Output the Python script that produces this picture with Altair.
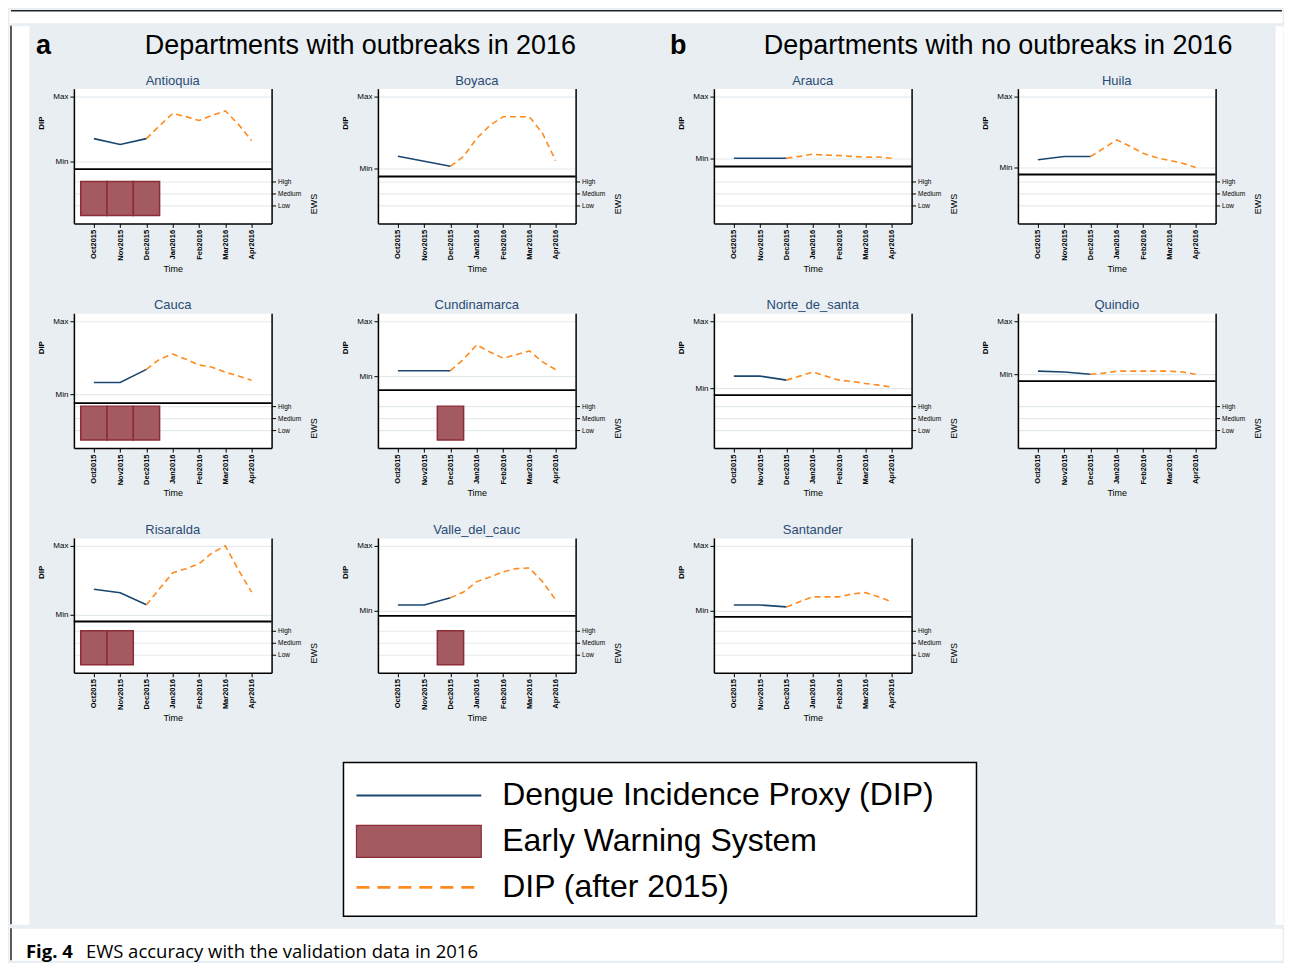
import altair as alt
import pandas as pd

# ---------------- data ----------------
MONTHS = ["Oct2015", "Nov2015", "Dec2015", "Jan2016", "Feb2016", "Mar2016", "Apr2016"]
EWS_LEVELS = ["Low", "Medium", "High"]
BLUE_X = [0, 1, 2]                                   # Oct, Nov, Dec 2015
ORANGE_X = [2, 2.5, 3, 3.5, 4, 4.5, 5, 5.5, 6]       # Dec 2015 .. Apr 2016

# DIP scaled to the panel's own range (0 = Min, 1 = Max)
antioquia_blue = [0.35, 0.26, 0.35]
antioquia_orange = [0.35, 0.55, 0.74, 0.69, 0.63, 0.71, 0.78, 0.57, 0.32]
boyaca_blue = [0.17, 0.10, 0.03]
boyaca_orange = [0.03, 0.17, 0.42, 0.60, 0.72, 0.72, 0.72, 0.49, 0.11]
cauca_blue = [0.16, 0.16, 0.34]
cauca_orange = [0.34, 0.48, 0.55, 0.48, 0.40, 0.37, 0.30, 0.25, 0.19]
cundinamarca_blue = [0.10, 0.10, 0.10]
cundinamarca_orange = [0.10, 0.31, 0.57, 0.44, 0.33, 0.39, 0.46, 0.26, 0.12]
risaralda_blue = [0.37, 0.32, 0.145]
risaralda_orange = [0.145, 0.38, 0.61, 0.67, 0.74, 0.90, 1.0, 0.65, 0.33]
valle_blue = [0.09, 0.09, 0.20]
valle_orange = [0.20, 0.29, 0.45, 0.52, 0.60, 0.65, 0.66, 0.45, 0.17]
arauca_blue = [0.0, 0.0, 0.0]
arauca_orange = [0.0, 0.03, 0.065, 0.05, 0.045, 0.03, 0.015, 0.02, 0.0]
huila_blue = [0.11, 0.155, 0.155]
huila_orange = [0.155, 0.27, 0.39, 0.30, 0.20, 0.14, 0.10, 0.06, 0.0]
norte_blue = [0.18, 0.18, 0.12]
norte_orange = [0.12, 0.18, 0.24, 0.18, 0.12, 0.10, 0.07, 0.045, 0.015]
quindio_blue = [0.057, 0.04, 0.0]
quindio_orange = [0.0, 0.02, 0.057, 0.057, 0.057, 0.057, 0.057, 0.04, 0.0]
santander_blue = [0.09, 0.09, 0.06]
santander_orange = [0.06, 0.14, 0.215, 0.215, 0.215, 0.26, 0.28, 0.215, 0.14]

DIP_BLUE = {
    "Antioquia": antioquia_blue, "Boyaca": boyaca_blue, "Cauca": cauca_blue,
    "Cundinamarca": cundinamarca_blue, "Risaralda": risaralda_blue,
    "Valle_del_cauc": valle_blue, "Arauca": arauca_blue, "Huila": huila_blue,
    "Norte_de_santa": norte_blue, "Quindio": quindio_blue, "Santander": santander_blue,
}
DIP_ORANGE = {
    "Antioquia": antioquia_orange, "Boyaca": boyaca_orange, "Cauca": cauca_orange,
    "Cundinamarca": cundinamarca_orange, "Risaralda": risaralda_orange,
    "Valle_del_cauc": valle_orange, "Arauca": arauca_orange, "Huila": huila_orange,
    "Norte_de_santa": norte_orange, "Quindio": quindio_orange, "Santander": santander_orange,
}
# months (index into MONTHS) with an early warning, and its level
EWS_ALERT_MONTHS = {
    "Antioquia": [0, 1, 2], "Cauca": [0, 1, 2], "Risaralda": [0, 1],
    "Cundinamarca": [2], "Valle_del_cauc": [2],
}
EWS_ALERT_LEVEL = "High"

HEADERS = ["a", "Departments with outbreaks in 2016", "b", "Departments with no outbreaks in 2016"]
LEGEND_LABELS = ["Dengue Incidence Proxy (DIP)", "Early Warning System", "DIP (after 2015)"]
CAPTION_BOLD = "Fig. 4"
CAPTION_TEXT = "EWS accuracy with the validation data in 2016"

ROWS = [
    (["Antioquia", "Boyaca"], ["Arauca", "Huila"]),
    (["Cauca", "Cundinamarca"], ["Norte_de_santa", "Quindio"]),
    (["Risaralda", "Valle_del_cauc"], ["Santander"]),
]

# ---------------- layout / style ----------------
# pixel offset (from panel top) of the Min gridline and of the separator line
PANEL_LAYOUT = {
    "Antioquia": (72.7, 80.7), "Boyaca": (80, 88), "Arauca": (69.7, 78), "Huila": (79, 86),
    "Cauca": (81, 90), "Cundinamarca": (63, 77), "Norte_de_santa": (75, 82), "Quindio": (61, 68),
    "Risaralda": (77, 83.7), "Valle_del_cauc": (73, 78), "Santander": (73, 79),
}
FONT = "Liberation Sans"
BG = "#E8EEF1"
GRID = "#E2EAEE"
NAVY = "#1A476F"
ORANGE = "#FF8A1E"
MAROON = "#A35A61"
MAROON_DARK = "#8C2D37"
TITLE_C = "#2B4A74"
BORDER = "#222222"
PW, PH = 198, 135

month_expr = "[" + ",".join("'%s'" % m for m in MONTHS) + "][datum.value]"
ews_expr = "['','" + "','".join(EWS_LEVELS) + "'][datum.value]"


def panel(name):
    min_px, sep_px = PANEL_LAYOUT[name]
    s = min_px - 8.0
    dip_dom = [-(PH - min_px) / s, 1 + 8.0 / s]
    sep_val = -(sep_px - min_px) / s

    xs = alt.Scale(domain=[-0.76, 6.76], nice=False, zero=False)
    xaxis = alt.Axis(values=list(range(7)), labelExpr=month_expr, labelAngle=270,
                     labelFontSize=7.5, labelFontWeight="bold", labelColor="black",
                     labelPadding=2, tickSize=4, tickColor="black", domainColor="black",
                     domainWidth=1.5, grid=False, title="Time", titleFontSize=9,
                     titleFontWeight="normal", titleColor="black", titlePadding=4)
    ys = alt.Scale(domain=dip_dom, nice=False, zero=False)
    yaxis = alt.Axis(values=[0, 1], labelExpr="datum.value == 1 ? 'Max' : 'Min'",
                     labelFontSize=8, labelColor="black", labelPadding=2, tickSize=4,
                     tickColor="black", domainColor="black", domainWidth=1.5, grid=True,
                     gridColor=GRID, gridWidth=1.2, title="DIP", titleFontSize=8,
                     titleFontWeight="bold", titleColor="black", titleAngle=270,
                     titleX=-32, titleY=34, titleBaseline="middle", titleAlign="center")
    es = alt.Scale(domain=[-0.5, 10.75], nice=False, zero=False)
    eaxis = alt.Axis(orient="right", values=[1, 2, 3], labelExpr=ews_expr,
                     labelFontSize=6.5, labelColor="black", labelPadding=2, tickSize=4,
                     tickColor="black", domainColor="black", domainWidth=1.5, grid=True,
                     gridColor=GRID, gridWidth=1.2, title="EWS", titleFontSize=9,
                     titleFontWeight="normal", titleColor="black", titleAngle=270,
                     titleX=42, titleY=115, titleBaseline="middle", titleAlign="center")

    xenc = alt.X("i:Q", scale=xs, axis=xaxis)
    blue_df = pd.DataFrame({"i": BLUE_X, "v": DIP_BLUE[name]})
    orange_df = pd.DataFrame({"i": ORANGE_X, "v": DIP_ORANGE[name]})
    blue = alt.Chart(blue_df).mark_line(color=NAVY, strokeWidth=1.6).encode(
        x=xenc, y=alt.Y("v:Q", scale=ys, axis=yaxis))
    orange = alt.Chart(orange_df).mark_line(color=ORANGE, strokeWidth=1.6, strokeDash=[6, 4]).encode(
        x=xenc, y=alt.Y("v:Q", scale=ys, axis=yaxis))
    sep = alt.Chart(pd.DataFrame({"s": [sep_val]})).mark_rule(color="black", strokeWidth=1.8).encode(
        y=alt.Y("s:Q", scale=ys, axis=yaxis))
    dip = alt.layer(blue, orange, sep)

    levels = alt.Chart(pd.DataFrame({"lv": [1, 2, 3]})).mark_point(opacity=0).encode(
        y=alt.Y("lv:Q", scale=es, axis=eaxis))
    months = EWS_ALERT_MONTHS.get(name, [])
    lvl = EWS_LEVELS.index(EWS_ALERT_LEVEL) + 1
    bars_df = pd.DataFrame({"i": months, "lvl": [lvl] * len(months)})
    bars = alt.Chart(bars_df).transform_calculate(
        x0="datum.i - 0.5", x1="datum.i + 0.5", base="0.17"
    ).mark_rect(fill=MAROON, stroke=MAROON_DARK, strokeWidth=1.5).encode(
        x=alt.X("x0:Q", scale=xs, axis=xaxis), x2="x1:Q",
        y=alt.Y("base:Q", scale=es, axis=eaxis), y2="lvl:Q")
    ews = alt.layer(levels, bars)

    return alt.layer(dip, ews).resolve_scale(y="independent").properties(
        width=PW, height=PH,
        title=alt.TitleParams(name, fontSize=13, color=TITLE_C, fontWeight="normal",
                              anchor="middle", frame="group", offset=1, font=FONT),
        view=alt.ViewBackground(fill="white", stroke="transparent"))


rows = []
for grp_a, grp_b in ROWS:
    ra = alt.hconcat(*[panel(n) for n in grp_a], spacing=21.5)
    rb = alt.hconcat(*[panel(n) for n in grp_b], spacing=21.5)
    rows.append(alt.hconcat(ra, rb, spacing=54))
grid = alt.vconcat(*rows, spacing=24)

# header (x measured from the first panel's plot edge)
HEADER_X = [-38, 71, 597, 691]
HEADER_BOLD = [True, False, True, False]
htexts = []
for t, hx, hb in zip(HEADERS, HEADER_X, HEADER_BOLD):
    htexts.append(alt.Chart(pd.DataFrame({"t": [t]})).mark_text(
        align="left", baseline="middle", fontSize=27, font=FONT,
        fontWeight="bold" if hb else "normal", color="black").encode(
        text="t:N", x=alt.value(hx), y=alt.value(20)))
header = alt.layer(*htexts).properties(
    width=1196, height=40, view=alt.ViewBackground(fill=BG, stroke="transparent"))

# legend
leg_df = pd.DataFrame({"k": [0, 1, 2], "label": LEGEND_LABELS})
LW, LH = 634, 154
ly_scale = alt.Scale(domain=[-33 / 46, (LH - 33) / 46], reverse=True, nice=False, zero=False)
ly = alt.Y("k:Q", scale=ly_scale, axis=None)
leg_line = alt.Chart(leg_df).transform_filter("datum.k == 0").mark_rule(
    color=NAVY, strokeWidth=2.2).encode(x=alt.value(13), x2=alt.value(138), y=ly)
leg_rect = alt.Chart(leg_df).transform_filter("datum.k == 1").transform_calculate(
    y1="datum.k - 0.348", y2="datum.k + 0.348").mark_rect(
    fill=MAROON, stroke=MAROON_DARK, strokeWidth=1.2).encode(
    x=alt.value(13), x2=alt.value(138),
    y=alt.Y("y1:Q", scale=ly_scale, axis=None), y2="y2:Q")
leg_dash = alt.Chart(leg_df).transform_filter("datum.k == 2").mark_rule(
    color=ORANGE, strokeWidth=2.6, strokeDash=[13, 8]).encode(
    x=alt.value(13), x2=alt.value(138), y=ly)
leg_text = alt.Chart(leg_df).mark_text(
    align="left", baseline="middle", fontSize=32, font=FONT, color="black").encode(
    x=alt.value(159), y=ly, text="label:N")
legend = alt.layer(leg_line, leg_rect, leg_dash, leg_text).properties(
    width=LW, height=LH, view=alt.ViewBackground(fill="white", stroke="black", strokeWidth=1.5))
spacer = alt.Chart(pd.DataFrame({"k": [0]})).mark_point(opacity=0, size=1).properties(
    width=1, height=1, view=alt.ViewBackground(fill="transparent", stroke="transparent"))
legend_row = alt.hconcat(spacer, legend, spacing=267)

main = alt.vconcat(header, alt.vconcat(grid, legend_row, spacing=38), spacing=7)

# white page margins with frame line, and caption
one = pd.DataFrame({"k": [0]})
left_strip = alt.Chart(one).mark_rule(color=BORDER, strokeWidth=1.5).encode(
    x=alt.value(2), y=alt.value(0), y2=alt.value(900)).properties(
    width=20, height=900, view=alt.ViewBackground(fill="white", stroke="transparent"))
right_strip = alt.Chart(one).mark_rule(opacity=0).encode(
    x=alt.value(0), y=alt.value(0), y2=alt.value(900)).properties(
    width=8, height=900, view=alt.ViewBackground(fill="white", stroke="transparent"))
top_strip = alt.Chart(one).mark_rule(color=BORDER, strokeWidth=1.5).encode(
    x=alt.value(2), x2=alt.value(1275), y=alt.value(1)).properties(
    width=1275, height=13, view=alt.ViewBackground(fill="white", stroke="transparent"))
cap_rule = alt.Chart(one).mark_rule(color=BORDER, strokeWidth=1.5).encode(
    x=alt.value(2), y=alt.value(0), y2=alt.value(32))
cap_b = alt.Chart(pd.DataFrame({"t": [CAPTION_BOLD]})).mark_text(
    align="left", baseline="middle", fontSize=18.5, font="Open Sans", fontWeight="bold",
    color="black").encode(text="t:N", x=alt.value(17), y=alt.value(24))
cap_t = alt.Chart(pd.DataFrame({"t": [CAPTION_TEXT]})).mark_text(
    align="left", baseline="middle", fontSize=18.5, font="Open Sans", color="black").encode(
    text="t:N", x=alt.value(77), y=alt.value(24))
caption = alt.layer(cap_rule, cap_b, cap_t).properties(
    width=1275, height=32, view=alt.ViewBackground(fill="white", stroke="transparent"))

middle = alt.hconcat(left_strip, main, right_strip, spacing=5)
chart = alt.vconcat(top_strip, middle, caption, spacing=0).properties(
    background=BG, padding=0).configure(font=FONT)

chart.save("out.html", embed_options={"renderer": "svg", "actions": False})
